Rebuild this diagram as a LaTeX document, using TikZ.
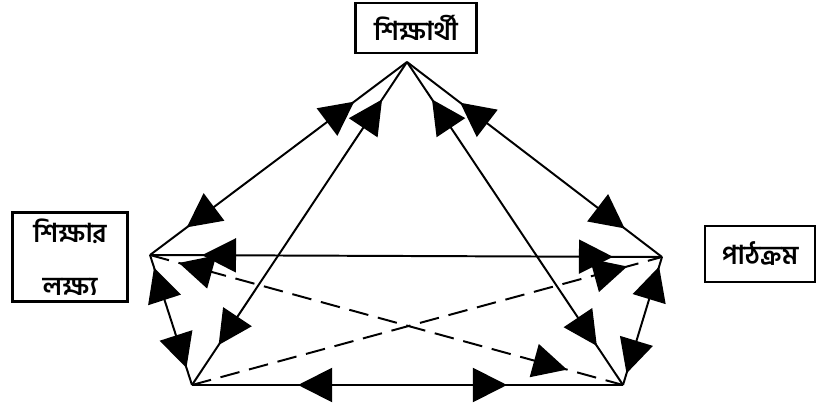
\documentclass[tikz,border=0pt]{standalone}
\usepackage{fontspec}
\newfontfamily\bnfont[Script=Bengali]{Hind Siliguri}
\usetikzlibrary{arrows.meta,decorations.markings}

\tikzset{
  bigtip/.tip={Triangle[length=0.85cm,width=0.85cm]},
  headback/.style={postaction={decorate,decoration={markings,mark=at position #1 with {\arrowreversed{bigtip}}}}},
  headfore/.style={postaction={decorate,decoration={markings,mark=at position -#1 with {\arrow{bigtip}}}}},
  link/.style={line width=1.4pt},
  dashlink/.style={line width=1.4pt,dash pattern=on 14pt off 7pt},
  labelbox/.style={draw,line width=2pt,inner sep=0pt,align=center,
    font=\bnfont\bfseries\fontsize{18.5}{30}\selectfont},
}

\begin{document}
\begin{tikzpicture}[x=0.025cm,y=-0.025cm]
\useasboundingbox (0,0) rectangle (818,405);

% Corners of the pentagon
\coordinate (apex) at (407,62);
\coordinate (lft) at (150,255);
\coordinate (rgt) at (662,257);
\coordinate (botl) at (192,385);
\coordinate (botr) at (623,385);

% Labels
\node[labelbox,minimum width=3.025cm,minimum height=1.25cm] (shikkharthi) at (416,28) {শিক্ষার্থী};
\node[labelbox,minimum width=2.875cm,minimum height=2.225cm] (lokkho) at (70,257) {শিক্ষার\\[8pt]লক্ষ্য};
\node[labelbox,minimum width=2.75cm,minimum height=1.4cm] (pathkrom) at (760,254) {পাঠক্রম};

% From the apex
\draw[link,headback=1.65cm,headfore=1.15cm] (apex) -- (lft);
\draw[link,headback=1.125cm,headfore=1.2cm] (apex) -- (botl);
\draw[link,headback=1.125cm,headfore=1.175cm] (apex) -- (botr);
\draw[link,headback=1.675cm,headfore=1.175cm] (apex) -- (rgt);

% Across
\draw[link,headback=1.3cm,headfore=1.225cm] (lft) -- (rgt);
\draw[link,headback=2.65cm,headfore=2.9cm] (botl) -- (botr);

% Sides
\draw[link,headback=0.33cm,headfore=0.45cm] (lft) -- (botl);
\draw[link,headback=0.25cm,headfore=0.3cm] (rgt) -- (botr);

% Dashed diagonals
\draw[dashlink,headback=0.75cm,headfore=1.45cm] (lft) -- (botr);
\draw[dashlink,headfore=0.9cm] (botl) -- (rgt);

\end{tikzpicture}
\end{document}
